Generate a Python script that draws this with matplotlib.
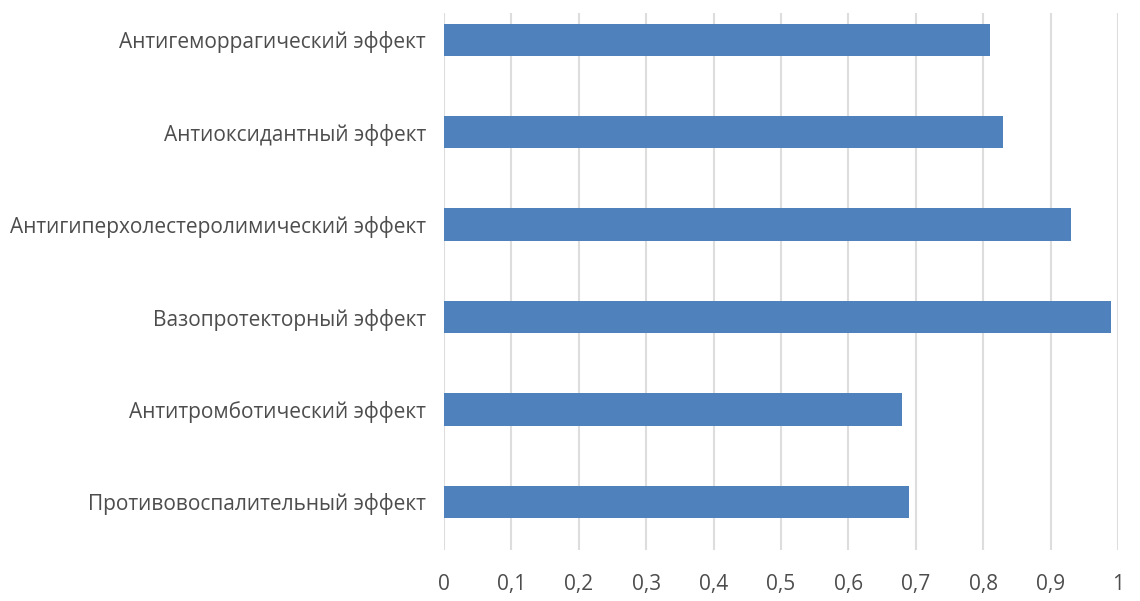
import matplotlib
matplotlib.use("Agg")
import matplotlib.pyplot as plt

# Data (bottom to top)
categories = [
    "Противовоспалительный эффект",
    "Антитромботический эффект",
    "Вазопротекторный эффект",
    "Антигиперхолестеролимический эффект",
    "Антиоксидантный эффект",
    "Антигеморрагический эффект",
]
values = [0.69, 0.68, 0.99, 0.93, 0.83, 0.81]
x_ticks = [0, 0.1, 0.2, 0.3, 0.4, 0.5, 0.6, 0.7, 0.8, 0.9, 1.0]
x_tick_labels = ["0", "0,1", "0,2", "0,3", "0,4", "0,5", "0,6", "0,7", "0,8", "0,9", "1"]

plt.rcParams["font.family"] = ["Open Sans", "DejaVu Sans"]

fig = plt.figure(figsize=(11.4, 6.01), dpi=100)
ax = fig.add_axes([0.3895, 0.085, 0.5912, 0.8935])

ax.barh(range(len(categories)), values, height=0.35, color="#4F81BD", zorder=3)

ax.set_xlim(0, 1)
ax.set_ylim(-0.52, 5.29)
ax.set_xticks(x_ticks)
ax.set_xticklabels(x_tick_labels)
ax.set_yticks(range(len(categories)))
ax.set_yticklabels(categories)

ax.grid(axis="x", color="#DDDDDD", linewidth=1.5, zorder=0)
ax.grid(axis="y", visible=False)
for s in ax.spines.values():
    s.set_visible(False)
ax.tick_params(axis="both", length=0, colors="#4D4D4D", labelsize=15)
ax.tick_params(axis="x", pad=17)
ax.tick_params(axis="y", pad=13)

fig.savefig("out.png", dpi=100)
